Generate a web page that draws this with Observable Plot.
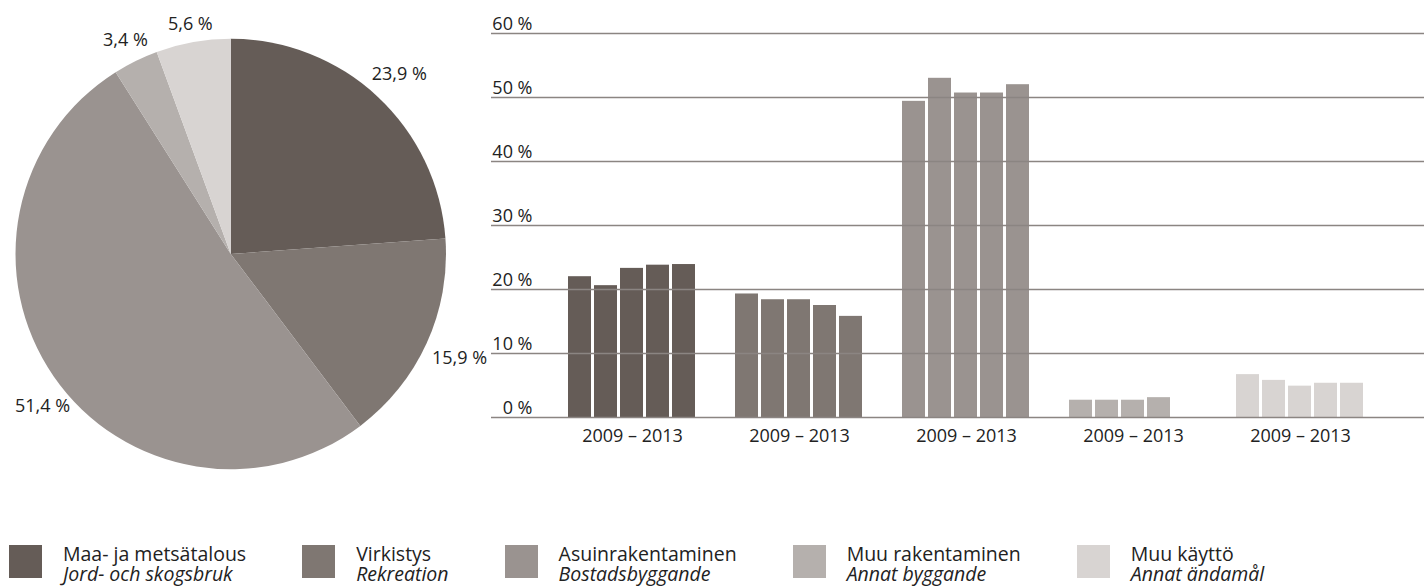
<!DOCTYPE html>
<html>
<head>
<meta charset="utf-8">
<script src="https://cdn.jsdelivr.net/npm/d3@7"></script>
<script src="https://cdn.jsdelivr.net/npm/@observablehq/plot@0.6"></script>
<style>
  body { margin: 0; background: #fff; font-family: "Open Sans", sans-serif; color: #222; }
  #root { position: relative; width: 1424px; height: 586px; overflow: hidden; background: #fff; }
  #root > .layer { position: absolute; left: 0; top: 0; }
  .legend { position: absolute; left: 9px; top: 543.5px; display: flex; gap: 56px; }
  .item { display: flex; align-items: flex-start; }
  .sw { width: 33px; height: 33px; margin-top: 1.5px; margin-right: 21px; flex: none; }
  .lbl { font-size: 19.5px; line-height: 20px; white-space: nowrap; color: #222; }
  .lbl span, .lbl i { display: block; }
</style>
</head>
<body>
<div id="root"></div>
<script>
// ---------- data ----------
const categoriesFi = ["Maa- ja metsätalous", "Virkistys", "Asuinrakentaminen", "Muu rakentaminen", "Muu käyttö"];
const categoriesSv = ["Jord- och skogsbruk", "Rekreation", "Bostadsbyggande", "Annat byggande", "Annat ändamål"];
const colors = ["#655c57", "#7f7772", "#9a9390", "#b5b0ad", "#d8d4d2"];
const years = [2009, 2010, 2011, 2012, 2013];
const periodLabel = "2009 – 2013";
const yTicks = [0, 10, 20, 30, 40, 50, 60];
const pieShares = [23.9, 15.9, 51.4, 3.4, 5.6];
const seriesMaa = [22.0, 20.6, 23.3, 23.8, 23.9];
const seriesVirkistys = [19.3, 18.4, 18.4, 17.5, 15.8];
const seriesAsuin = [49.4, 53.0, 50.7, 50.7, 52.0];
const seriesMuuRak = [2.7, 2.7, 2.7, 3.1, null];
const seriesMuuKaytto = [6.7, 5.8, 4.9, 5.35, 5.35];
const barSeries = [seriesMaa, seriesVirkistys, seriesAsuin, seriesMuuRak, seriesMuuKaytto];

// ---------- shared ----------
const colorOpts = {type: "ordinal", domain: categoriesFi, range: colors};
const colorScale = Plot.scale({color: colorOpts});
const root = document.getElementById("root");
const txt = "#222";
const font = "Open Sans";

// ---------- pie ----------
const pieW = 470, pieH = 480;
const pieML = 15.5, pieMR = 24, pieMT = 39, pieMB = 11;
const rPx = (pieW - pieML - pieMR) / 2;
const pieData = d3.pie().sort(null).value(d => d.share)(
  categoriesFi.map((c, i) => ({cat: c, share: pieShares[i]}))
);
const fmt = v => v.toFixed(1).replace(".", ",") + " %";
const fontPx = 18;
function labelPos(d) {
  const a = (d.startAngle + d.endAngle) / 2;
  const s = Math.sin(a), c = Math.cos(a);
  const w = fmt(d.data.share).length * 0.5 * fontPx, h = 14;
  const ext = (w / 2) * Math.abs(s) + (h / 2) * Math.abs(c);
  const k = (rPx + 8 + ext) / rPx;
  let x = s * k, y = c * k;
  const xMin = (15 + w / 2 - pieML) / rPx - 1;   // keep label inside the page
  if (x < xMin) { x = xMin; y = y * 1.07; }
  return {x, y};
}
const pieLabels = pieData.map(d => ({...labelPos(d), text: fmt(d.data.share)}));

const piePlot = Plot.plot({
  width: pieW, height: pieH,
  marginLeft: pieML, marginRight: pieMR, marginTop: pieMT, marginBottom: pieMB,
  style: {background: "none", overflow: "visible", fontFamily: font},
  x: {domain: [-1, 1], axis: null},
  y: {domain: [-1, 1], axis: null},
  marks: [
    (index, scales) => {
      const cx = scales.x(0), cy = scales.y(0), r = scales.x(1) - scales.x(0);
      const arc = d3.arc().innerRadius(0).outerRadius(r);
      const g = d3.create("svg:g").attr("transform", `translate(${cx},${cy})`);
      g.selectAll("path").data(pieData).join("path")
        .attr("d", arc)
        .attr("fill", d => colorScale.apply(d.data.cat));
      return g.node();
    },
    Plot.text(pieLabels, {x: "x", y: "y", text: "text", fontSize: fontPx, fill: txt, lineAnchor: "middle"})
  ]
});
piePlot.classList.add("layer");
root.appendChild(piePlot);

// ---------- bars ----------
const H = 470, MT = 33, MB = 53;
const barData = [];
categoriesFi.forEach((c, i) => years.forEach((yr, j) => {
  const v = barSeries[i][j];
  if (v != null) barData.push({cat: c, year: yr, value: v});
}));

const barsPlot = Plot.plot({
  width: 1424, height: H,
  marginLeft: 564, marginRight: 55, marginTop: MT, marginBottom: MB,
  style: {background: "none", overflow: "visible", fontFamily: font},
  fx: {domain: categoriesFi, paddingInner: 0.2083, paddingOuter: 0, axis: null, label: null},
  x: {domain: years, paddingInner: 0.11, paddingOuter: 0, axis: null},
  y: {domain: [0, 60], axis: null},
  color: colorOpts,
  marks: [
    Plot.barY(barData, {fx: "cat", x: "year", y: "value", fill: "cat"}),
    Plot.text(categoriesFi, {fx: d => d, text: () => periodLabel, frameAnchor: "bottom",
      lineAnchor: "bottom", dy: 24, fontSize: 18, fill: txt})
  ]
});
barsPlot.classList.add("layer");
root.appendChild(barsPlot);

// ---------- grid + y labels ----------
const gridPlot = Plot.plot({
  width: 1424, height: H,
  marginLeft: 491, marginRight: 0, marginTop: MT, marginBottom: MB,
  style: {background: "none", overflow: "visible", fontFamily: font},
  y: {domain: [0, 60], axis: null},
  marks: [
    Plot.ruleY(yTicks, {stroke: "#8b8582", strokeWidth: 1.3}),
    Plot.text(yTicks, {y: d => d, text: d => `${d} %`, frameAnchor: "left", textAnchor: "end",
      lineAnchor: "bottom", dx: 41, dy: -4, fontSize: 18, fill: txt})
  ]
});
gridPlot.classList.add("layer");
root.appendChild(gridPlot);

// ---------- legend ----------
const legend = document.createElement("div");
legend.className = "legend";
categoriesFi.forEach((c, i) => {
  const item = document.createElement("div");
  item.className = "item";
  const sw = document.createElement("div");
  sw.className = "sw";
  sw.style.background = colorScale.apply(c);
  const lbl = document.createElement("div");
  lbl.className = "lbl";
  const fi = document.createElement("span");
  fi.textContent = c;
  const sv = document.createElement("i");
  sv.textContent = categoriesSv[i];
  lbl.appendChild(fi);
  lbl.appendChild(sv);
  item.appendChild(sw);
  item.appendChild(lbl);
  legend.appendChild(item);
});
root.appendChild(legend);
</script>
</body>
</html>
